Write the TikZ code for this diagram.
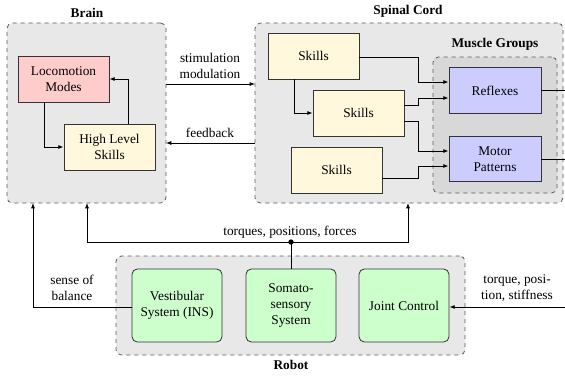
\documentclass[tikz,border=0pt]{standalone}
\usepackage{fontspec}
\setmainfont{Liberation Serif}
\usetikzlibrary{arrows.meta,calc}
\definecolor{contfill}{HTML}{E8E8E8}
\definecolor{mgfill}{HTML}{D8D8D8}
\definecolor{pinkfill}{HTML}{FFCCCC}
\definecolor{yelfill}{HTML}{FFF8DC}
\definecolor{bluefill}{HTML}{CCCCFF}
\definecolor{greenfill}{HTML}{CCFFCC}
\tikzset{
  container/.style={draw=black!65, dashed, fill=contfill, rounded corners=4pt, line width=0.6pt, inner sep=0pt},
  mgcont/.style={container, fill=mgfill},
  title/.style={font=\bfseries, inner sep=0pt},
  blk/.style={draw=black!80, line width=0.6pt, align=center, inner sep=1pt, minimum width=68.25pt, minimum height=34.5pt},
  locbox/.style={blk, fill=pinkfill},
  skillbox/.style={blk, fill=yelfill},
  musbox/.style={blk, fill=bluefill, minimum width=69pt, minimum height=34pt},
  robbox/.style={blk, fill=greenfill, rounded corners=4pt, minimum width=67.5pt, minimum height=54.75pt},
  conn/.style={line width=0.6pt, -{Latex[length=4pt,width=3pt]}},
  plain/.style={line width=0.6pt},
  lbl/.style={align=center, inner sep=0pt, font=\linespread{1}\selectfont},
}
\begin{document}
\begin{tikzpicture}[x=0.75pt,y=-0.75pt]
\useasboundingbox (0,0) rectangle (565,376);
% containers
\node[container, minimum width=119.25pt, minimum height=135pt] (brain) at (86.5,113) {};
\node[title] (braint) at (87,13) {Brain};
\node[container, minimum width=231pt, minimum height=135pt] (spinal) at (409,113) {};
\node[title] (spinalt) at (408,11) {Spinal Cord};
\node[mgcont, minimum width=93pt, minimum height=102pt] (muscle) at (495,125) {};
\node[title] (musclet) at (495,44) {Muscle Groups};
\node[container, minimum width=261.75pt, minimum height=74.25pt] (robot) at (290.5,305.5) {};
\node[title] (robott) at (291,365) {Robot};
% brain blocks
\node[locbox] (loc) at (63.5,79) {Locomotion\\Modes};
\node[skillbox] (hls) at (109.5,147) {High Level\\Skills};
% spinal blocks
\node[skillbox] (sk1) at (313.5,56) {Skills};
\node[skillbox] (sk2) at (358.5,113) {Skills};
\node[skillbox] (sk3) at (336.5,170) {Skills};
\node[musbox] (refl) at (495,90.5) {Reflexes};
\node[musbox] (motor) at (495,159) {Motor\\Patterns};
% robot blocks
\node[robbox] (vest) at (177,305.5) {Vestibular\\System (INS)};
\node[robbox] (soma) at (291,305.5) {Somato-\\sensory\\System};
\node[robbox] (joint) at (404,305.5) {Joint Control};
% coordinates
\coordinate (jx) at (418,0);
\coordinate (dot) at (291,242);
\coordinate (outR) at (565,90.5);
\coordinate (outM) at (565,159);
\coordinate (inJ) at (565,307);
% brain internal
\draw[conn] ($(loc.south)+(-19.5,0)$) |- (hls.west);
\draw[conn] ($(hls.north)+(18.5,0)$) |- (loc.east);
% brain <-> spinal
\coordinate (stimA) at (166,84);
\coordinate (stimB) at (255,84);
\coordinate (fbA) at (255,143);
\coordinate (fbB) at (166,143);
\draw[conn] (stimA) -- (stimB);
\draw[conn] (fbA) -- (fbB);
\node[lbl] (stimlbl) at (210,66) {stimulation\\modulation};
\node[lbl] (fblbl) at (210,133) {feedback};
% spinal internal
\draw[conn] ($(sk1.east)+(0,1)$) -| ($(jx)+(0,82)$) -- ($(refl.west)+(0,-8.5)$);
\draw[conn] ($(sk1.south)+(-19.5,0)$) |- (sk2.west);
\draw[conn] ($(sk2.east)+(0,-8)$) -| ($(jx)+(0,98)$) -- ($(refl.west)+(0,7.5)$);
\draw[conn] ($(sk2.east)+(0,8)$) -| ($(jx)+(0,151)$) -- ($(motor.west)+(0,-8)$);
\draw[conn] ($(sk3.east)+(0,8)$) -| ($(jx)+(0,166)$) -- ($(motor.west)+(0,7)$);
\draw[plain] (refl.east) -- (outR);
\draw[plain] (motor.east) -- (outM);
% bottom
\coordinate (balA) at (33,307);
\coordinate (balB) at (33,203);
\draw[conn] ($(vest.west)+(0,1.5)$) -- (balA) -- (balB);
\node[lbl] (ballbl) at (72,288) {sense of\\balance};
\coordinate (tqL) at (87,203);
\coordinate (tqR) at (408,203);
\draw[plain] (soma.north) -- (dot);
\draw[conn] (dot) -| (tqL);
\draw[conn] (dot) -| (tqR);
\fill (dot) circle (2pt);
\node[lbl] (tqlbl) at (290,232) {torques, positions, forces};
\draw[conn] (inJ) -- ($(joint.east)+(0,1.5)$);
\node[lbl] (jlbl) at (517,288) {torque, posi-\\tion, stiffness};
\end{tikzpicture}
\end{document}
